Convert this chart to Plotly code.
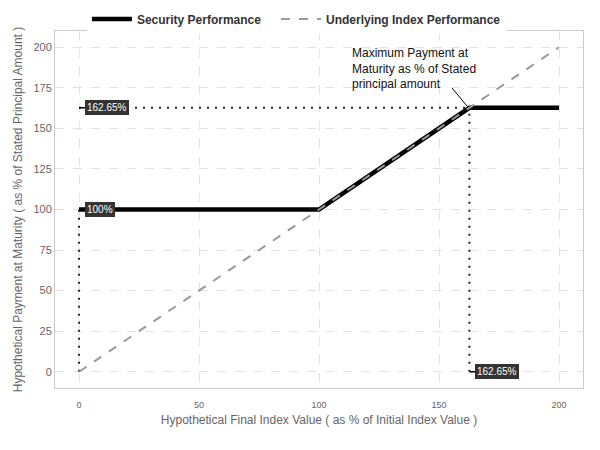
import plotly.graph_objects as go

sec_x = [0, 100, 162.65, 200]
sec_y = [100, 100, 162.65, 162.65]
idx_x = [0, 200]
idx_y = [0, 200]
cap = 162.65
floor_val = 100
x_ticks = [0, 50, 100, 150, 200]
y_ticks = [0, 25, 50, 75, 100, 125, 150, 175, 200]

fig = go.Figure()
navy = "#1f2a44"
dot = "2px,6px"
# dotted guide lines
fig.add_trace(go.Scatter(x=[0, 0], y=[0, floor_val], mode="lines",
                         line=dict(color=navy, width=2, dash=dot), showlegend=False, hoverinfo="skip"))
fig.add_trace(go.Scatter(x=[0, cap], y=[cap, cap], mode="lines",
                         line=dict(color=navy, width=2, dash=dot), showlegend=False, hoverinfo="skip"))
fig.add_trace(go.Scatter(x=[cap, cap], y=[0, cap], mode="lines",
                         line=dict(color=navy, width=2, dash=dot), showlegend=False, hoverinfo="skip"))
fig.add_trace(go.Scatter(x=sec_x, y=sec_y, mode="lines",
                         name="<b>Security Performance</b>&nbsp;&nbsp;&nbsp;",
                         line=dict(color="black", width=4.5)))
fig.add_trace(go.Scatter(x=idx_x, y=idx_y, mode="lines", name="<b>Underlying Index Performance</b>",
                         line=dict(color="#999999", width=2, dash="dash")))

def lbl(x, y, text):
    fig.add_annotation(x=x, y=y, text=text, showarrow=True, arrowhead=0, arrowwidth=1.5,
                       arrowcolor="black", ax=6, ay=0, xanchor="left", yanchor="middle",
                       bgcolor="#333333", bordercolor="#333333", borderpad=1,
                       font=dict(color="white", size=10, family="Liberation Sans, Arial"))

lbl(0, cap, "162.65%")
lbl(0, floor_val, "100%")
lbl(cap, 0, "162.65%")

fig.add_shape(type="line", x0=155.5, y0=174.8, x1=161.8, y1=163.5,
              line=dict(color="black", width=1))
fig.add_annotation(x=113, y=202, xref="x", yref="y", showarrow=False, xanchor="left", yanchor="top",
                   align="left",
                   text="Maximum Payment at<br>Maturity as % of Stated<br>principal amount",
                   font=dict(color="#111111", size=12, family="Liberation Sans, Arial"))

axis_common = dict(showgrid=True, gridcolor="#e2e2e2", griddash="dash", gridwidth=1,
                   showline=True, linecolor="#cccccc", linewidth=1, mirror=True,
                   zeroline=False, ticks="", automargin=False,
                   title_font=dict(color="#666666", size=12))
fig.update_xaxes(range=[-10, 210], tickvals=x_ticks, ticklabelstandoff=8,
                 tickfont=dict(color="#666666", size=9),
                 title_text="Hypothetical Final Index Value ( as % of Initial Index Value )",
                 title_standoff=6, **axis_common)
fig.update_yaxes(range=[-10, 210], tickvals=y_ticks,
                 tickfont=dict(color="#666666", size=11),
                 title_text="Hypothetical Payment at Maturity ( as % of Stated Principal Amount )",
                 title_standoff=8, **axis_common)

fig.update_layout(width=600, height=450, margin=dict(l=55, r=17, t=31, b=62, autoexpand=False),
                  plot_bgcolor="white", paper_bgcolor="white",
                  font=dict(family="Liberation Sans, Arial"),
                  legend=dict(orientation="h", xref="container", yref="container",
                              x=0.494, xanchor="center", y=1 - 19 / 450, yanchor="middle",
                              font=dict(size=12, color="#333333", family="Liberation Sans, Arial"),
                              itemwidth=40, tracegroupgap=0))

fig.write_html("out.html", config={"displayModeBar": False},
               post_script="document.body.style.margin='0';")
